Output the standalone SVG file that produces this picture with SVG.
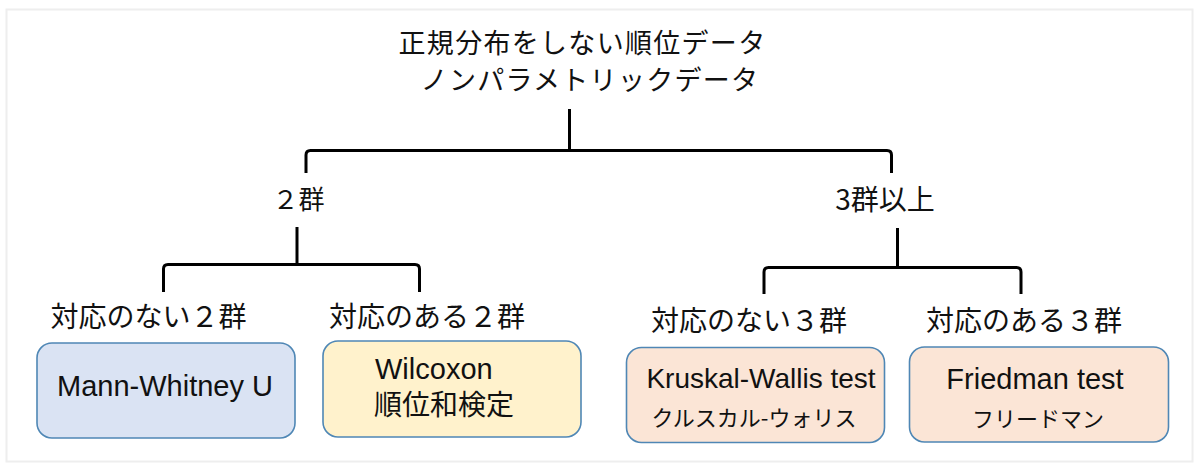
<svg xmlns="http://www.w3.org/2000/svg" width="1200" height="473" viewBox="0 0 1200 473">
<style>
  .jp { font-family: "Noto Sans CJK JP", "Noto Sans", sans-serif; fill: #111; }
  .en { font-family: "Liberation Sans", "Noto Sans CJK JP", sans-serif; fill: #111; }
  .mid { text-anchor: middle; }
  .conn { fill: none; stroke: #000; stroke-width: 3; stroke-linejoin: round; }
  .box { stroke: #4f87b5; stroke-width: 1.6; }
  .blue { fill: #dae3f3; }
  .yellow { fill: #fff2cc; }
  .peach { fill: #fbe5d6; }
</style>
<rect x="0" y="0" width="1200" height="473" fill="#ffffff"/>
<rect x="6.5" y="9.5" width="1186" height="452" fill="#ffffff" stroke="#eeeeee" stroke-width="2"/>

<g id="connectors">
  <path class="conn" d="M569.5 109 V150.5"/>
  <path class="conn" d="M306 173 V155 Q306 150.5 310.5 150.5 H887 Q891.5 150.5 891.5 155 V173"/>
  <path class="conn" d="M297 227 V264.5"/>
  <path class="conn" d="M163.5 292 V269 Q163.5 264.5 168 264.5 H415 Q419.5 264.5 419.5 269 V292"/>
  <path class="conn" d="M897.5 228 V267.5"/>
  <path class="conn" d="M764 294 V272 Q764 267.5 768.5 267.5 H1016.5 Q1021 267.5 1021 272 V294"/>
</g>

<g id="root">
  <text class="jp mid" font-size="27" letter-spacing="1.3"><tspan x="582.5" y="53">正規分布をしない順位データ</tspan><tspan x="590" y="89.5">ノンパラメトリックデータ</tspan></text>
</g>

<g id="two-groups">
  <text class="jp mid" x="298.5" y="209" font-size="26">２群</text>
</g>
<g id="three-groups">
  <text class="jp mid" x="885" y="210" font-size="28">3群以上</text>
</g>

<g id="unpaired-2">
  <text class="jp mid" x="148.5" y="327" font-size="28">対応のない２群</text>
</g>
<g id="paired-2">
  <text class="jp mid" x="427" y="327" font-size="28">対応のある２群</text>
</g>
<g id="unpaired-3">
  <text class="jp mid" x="749" y="331" font-size="28">対応のない３群</text>
</g>
<g id="paired-3">
  <text class="jp mid" x="1024" y="331" font-size="28">対応のある３群</text>
</g>

<g id="mann-whitney">
  <rect class="box blue" x="37" y="343" width="258" height="95" rx="15"/>
  <text class="en mid" x="165" y="396" font-size="29">Mann-Whitney U</text>
</g>
<g id="wilcoxon">
  <rect class="box yellow" x="323" y="341" width="258" height="96" rx="15"/>
  <text class="en" font-size="29"><tspan x="375" y="379">Wilcoxon</tspan><tspan class="jp" x="374" y="415" font-size="28">順位和検定</tspan></text>
</g>
<g id="kruskal-wallis">
  <rect class="box peach" x="626.5" y="347.5" width="258" height="95" rx="15"/>
  <text class="en mid" x="761" y="388" font-size="28">Kruskal-Wallis test</text>
  <text class="jp mid" x="754" y="426" font-size="22">クルスカル-ウォリス</text>
</g>
<g id="friedman">
  <rect class="box peach" x="909.5" y="347" width="259" height="95" rx="15"/>
  <text class="en mid" x="1035" y="389" font-size="29">Friedman test</text>
  <text class="jp mid" x="1038" y="427" font-size="22">フリードマン</text>
</g>
</svg>
